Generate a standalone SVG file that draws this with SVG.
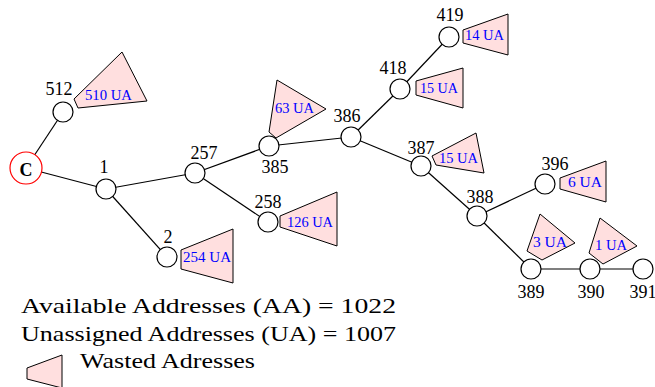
<svg xmlns="http://www.w3.org/2000/svg" width="655" height="387" viewBox="0 0 655 387" font-family="'Liberation Serif', 'DejaVu Serif', serif">
<style>
.n{fill:#fff;stroke:#000;stroke-width:1.2}
.e{stroke:#000;stroke-width:1.2;fill:none}
.w{fill:#ffdfdf;stroke:#000;stroke-width:1}
text{font-family:'Liberation Serif','DejaVu Serif',serif}
.l{font-size:18px;fill:#000;text-anchor:middle}
.u{font-size:14px;fill:#0000ff}
.t{font-size:22px;fill:#000}
</style>
<rect width="655" height="387" fill="#fff"/>
<g id="connectors">
<line class="e" x1="26" y1="168" x2="63" y2="112"/>
<line class="e" x1="26" y1="168" x2="106" y2="189"/>
<line class="e" x1="106" y1="189" x2="195" y2="173"/>
<line class="e" x1="106" y1="189" x2="167" y2="257"/>
<line class="e" x1="195" y1="173" x2="269" y2="146"/>
<line class="e" x1="195" y1="173" x2="268" y2="222"/>
<line class="e" x1="269" y1="146" x2="351" y2="137"/>
<line class="e" x1="351" y1="137" x2="400" y2="89"/>
<line class="e" x1="400" y1="89" x2="449" y2="37"/>
<line class="e" x1="351" y1="137" x2="421" y2="166"/>
<line class="e" x1="421" y1="166" x2="477" y2="216"/>
<line class="e" x1="477" y1="216" x2="545" y2="184"/>
<line class="e" x1="477" y1="216" x2="531" y2="269"/>
<line class="e" x1="531" y1="269" x2="590" y2="269"/>
<line class="e" x1="590" y1="269" x2="643" y2="269"/>
</g>
<g id="nodeC"><circle cx="26" cy="168" r="16" fill="#fff" stroke="#ff0000" stroke-width="1.2"/><text x="26" y="176" class="l" font-weight="bold" font-size="20">C</text></g>
<g id="n512"><circle class="n" cx="63" cy="112" r="10"/><text x="59" y="95" class="l">512</text></g>
<g id="n1"><circle class="n" cx="106" cy="189" r="10"/><text x="104" y="173" class="l">1</text></g>
<g id="n2"><circle class="n" cx="167" cy="257" r="10"/><text x="168" y="243" class="l">2</text></g>
<g id="n257"><circle class="n" cx="195" cy="173" r="10"/><text x="204" y="159" class="l">257</text></g>
<g id="n258"><circle class="n" cx="268" cy="222" r="10"/><text x="268" y="208" class="l">258</text></g>
<g id="n385"><circle class="n" cx="269" cy="146" r="10"/><text x="275" y="173" class="l">385</text></g>
<g id="n386"><circle class="n" cx="351" cy="137" r="10"/><text x="347" y="122" class="l">386</text></g>
<g id="n418"><circle class="n" cx="400" cy="89" r="10"/><text x="393" y="74" class="l">418</text></g>
<g id="n419"><circle class="n" cx="449" cy="37" r="10"/><text x="450" y="21" class="l">419</text></g>
<g id="n387"><circle class="n" cx="421" cy="166" r="10"/><text x="421" y="154" class="l">387</text></g>
<g id="n388"><circle class="n" cx="477" cy="216" r="10"/><text x="480" y="203" class="l">388</text></g>
<g id="n396"><circle class="n" cx="545" cy="184" r="10"/><text x="555" y="170" class="l">396</text></g>
<g id="n389"><circle class="n" cx="531" cy="269" r="10"/><text x="531" y="298" class="l">389</text></g>
<g id="n390"><circle class="n" cx="590" cy="269" r="10"/><text x="591" y="298" class="l">390</text></g>
<g id="n391"><circle class="n" cx="643" cy="269" r="10"/><text x="643" y="298" class="l">391</text></g>
<g id="w510"><polygon class="w" points="122,52 147,101 78,108 74,99"/><text x="85" y="100" class="u" textLength="47" lengthAdjust="spacingAndGlyphs">510 UA</text></g>
<g id="w63"><polygon class="w" points="277,80 326,109 276,138 269,132"/><text x="275" y="113" class="u" textLength="39" lengthAdjust="spacingAndGlyphs">63 UA</text></g>
<g id="w126"><polygon class="w" points="280,216 337,192 337,246 280,227"/><text x="287" y="227" class="u" textLength="46" lengthAdjust="spacingAndGlyphs">126 UA</text></g>
<g id="w254"><polygon class="w" points="181,250 233,229 233,283 181,269"/><text x="183" y="262" class="u" textLength="48" lengthAdjust="spacingAndGlyphs">254 UA</text></g>
<g id="w14"><polygon class="w" points="463,30 508,14 508,55 463,43"/><text x="465" y="40" class="u" textLength="39" lengthAdjust="spacingAndGlyphs">14 UA</text></g>
<g id="w15a"><polygon class="w" points="416,81 463,68 463,108 416,95"/><text x="420" y="93" class="u" textLength="38" lengthAdjust="spacingAndGlyphs">15 UA</text></g>
<g id="w15b"><polygon class="w" points="432,156 476,133 484,173 436,165"/><text x="439" y="163" class="u" textLength="39" lengthAdjust="spacingAndGlyphs">15 UA</text></g>
<g id="w6"><polygon class="w" points="560,178 606,161 606,202 560,189"/><text x="568" y="187" class="u" textLength="34" lengthAdjust="spacingAndGlyphs">6 UA</text></g>
<g id="w3"><polygon class="w" points="540,214 575,243 542,260 527,251"/><text x="533" y="247" class="u" textLength="34" lengthAdjust="spacingAndGlyphs">3 UA</text></g>
<g id="w1"><polygon class="w" points="600,218 637,246 603,264 589,253"/><text x="595" y="250" class="u" textLength="32" lengthAdjust="spacingAndGlyphs">1 UA</text></g>
<g id="legend">
<text x="21" y="313" class="t" textLength="375" lengthAdjust="spacingAndGlyphs">Available Addresses (AA) = 1022</text>
<text x="21" y="341" class="t" textLength="375" lengthAdjust="spacingAndGlyphs">Unassigned Addresses (UA) = 1007</text>
<polygon class="w" points="27,368 62,355 62,388 27,379"/>
<text x="80" y="368" class="t" textLength="175" lengthAdjust="spacingAndGlyphs">Wasted Adresses</text>
</g>
</svg>
